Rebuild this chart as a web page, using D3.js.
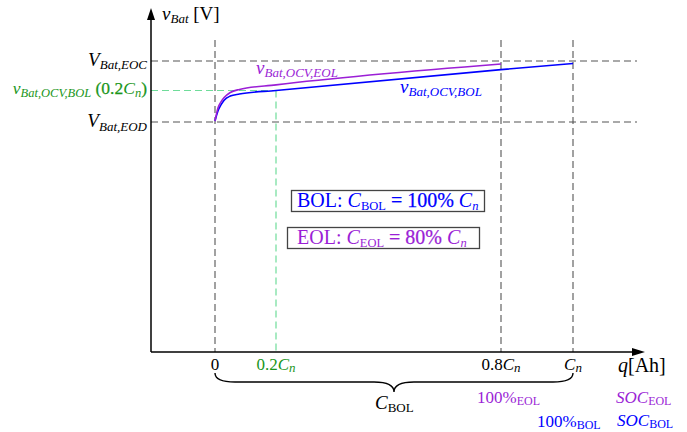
<!DOCTYPE html>
<html>
<head>
<meta charset="utf-8">
<script src="https://cdn.jsdelivr.net/npm/d3@7/dist/d3.min.js"></script>
<style>
  html, body { margin: 0; padding: 0; background: #fff; }
  svg { display: block; }
  text { font-family: "Liberation Serif", "Times New Roman", Tinos, "DejaVu Serif", serif; }
</style>
</head>
<body>
<svg id="chart" width="687" height="432"></svg>
<script>
// Charge level q as a fraction of the nominal capacity C_n
const qMarks = [0, 0.2, 0.8, 1];
const qMarkLabels = [
  [{t: "0"}],
  [{t: "0.2"}, {t: "C", i: true}, {t: "n", i: true, sub: true}],
  [{t: "0.8"}, {t: "C", i: true}, {t: "n", i: true, sub: true}],
  [{t: "C", i: true}, {t: "n", i: true, sub: true}]
];

// Voltage levels (V)
const vEOD = 3.0;
const vEOC = 4.2;
const vOcvBol02 = 3.62;

// Open-circuit voltage, begin of life (capacity = 100% C_n)
const bolQ = [0, 0.01, 0.02, 0.03, 0.05, 0.08, 0.2, 0.8, 1.0];
const bolV = [3.02, 3.22, 3.34, 3.43, 3.51, 3.55, 3.62, 4.03, 4.15];

// Open-circuit voltage, end of life (capacity = 80% C_n)
const eolQ = [0, 0.01, 0.02, 0.03, 0.05, 0.08, 0.2, 0.8];
const eolV = [3.02, 3.28, 3.40, 3.48, 3.58, 3.64, 3.73, 4.14];

const BLUE = "#0000ff";
const PURPLE = "#9b1fd6";
const GREEN = "#1a961a";
const GREEN_LIGHT = "#6fdc9a";
const GREY = "#555555";

const svg = d3.select("#chart");

// Plot frame
const originX = 151, originY = 352, topY = 8, rightX = 645, guideRight = 637;

// Schematic axis: 0.2 C_n is placed slightly closer to the origin
const x = d3.scaleLinear().domain([0, 0.2, 0.8, 1]).range([215, 276, 501, 573]);
const y = d3.scaleLinear().domain([vEOD, vEOC]).range([122, 61]);

// Rich text helper: segments with italic / subscript / heavier-stroke flags
function rich(parent, px, py, parts, opt) {
  opt = opt || {};
  const size = opt.size || 18;
  const color = opt.color || "#000";
  const subSize = opt.subSize || Math.round(size * 0.7);
  const subDy = opt.subDy || Math.round(size * 0.25);
  const t = parent.append("text")
    .attr("x", px).attr("y", py)
    .attr("text-anchor", opt.anchor || "start")
    .attr("fill", color)
    .style("font-size", size + "px");
  let cur = 0;
  parts.forEach(p => {
    const target = p.sub ? subDy : 0;
    const ts = t.append("tspan").text(p.t)
      .attr("dy", target - cur)
      .style("font-size", (p.sub ? subSize : (p.size || size)) + "px")
      .style("font-style", p.i ? "italic" : "normal");
    if (p.heavy) ts.attr("stroke", color).attr("stroke-width", 0.25);
    cur = target;
  });
  return t;
}

const guides = svg.append("g").attr("fill", "none");

// Horizontal guide levels
[vEOC, vEOD].forEach(v => {
  guides.append("line")
    .attr("x1", originX).attr("x2", guideRight)
    .attr("y1", y(v)).attr("y2", y(v))
    .attr("stroke", GREY).attr("stroke-width", 1.1)
    .attr("stroke-dasharray", "7,4");
});

// Vertical guides at 0, 0.8 C_n, C_n
[0, 0.8, 1].forEach(q => {
  guides.append("line")
    .attr("x1", x(q)).attr("x2", x(q))
    .attr("y1", 40).attr("y2", originY)
    .attr("stroke", GREY).attr("stroke-width", 1.1)
    .attr("stroke-dasharray", "7,4");
});

// Green reference at 0.2 C_n
guides.append("line")
  .attr("x1", originX).attr("x2", x(0.2))
  .attr("y1", y(vOcvBol02)).attr("y2", y(vOcvBol02))
  .attr("stroke", GREEN_LIGHT).attr("stroke-width", 1.2)
  .attr("stroke-dasharray", "7,4");
guides.append("line")
  .attr("x1", x(0.2)).attr("x2", x(0.2))
  .attr("y1", y(vOcvBol02)).attr("y2", originY)
  .attr("stroke", GREEN_LIGHT).attr("stroke-width", 1.2)
  .attr("stroke-dasharray", "7,4");

// OCV curves
const line = d3.line()
  .x(d => x(d[0]))
  .y(d => y(d[1]))
  .curve(d3.curveMonotoneX);

svg.append("path")
  .datum(bolQ.map((q, k) => [q, bolV[k]]))
  .attr("d", line)
  .attr("fill", "none").attr("stroke", BLUE).attr("stroke-width", 1.6);

svg.append("path")
  .datum(eolQ.map((q, k) => [q, eolV[k]]))
  .attr("d", line)
  .attr("fill", "none").attr("stroke", PURPLE).attr("stroke-width", 1.6);

// Axes with arrowheads
const axes = svg.append("g");
axes.append("line")
  .attr("x1", originX).attr("x2", originX)
  .attr("y1", originY).attr("y2", topY + 8)
  .attr("stroke", "#000").attr("stroke-width", 1.5);
axes.append("path")
  .attr("d", `M${originX},${topY} L${originX - 4},${topY + 12} L${originX + 4},${topY + 12} Z`)
  .attr("fill", "#000");
axes.append("line")
  .attr("x1", originX).attr("x2", rightX - 8)
  .attr("y1", originY).attr("y2", originY)
  .attr("stroke", "#000").attr("stroke-width", 1.5);
axes.append("path")
  .attr("d", `M${rightX},${originY} L${rightX - 13},${originY - 4} L${rightX - 13},${originY + 4} Z`)
  .attr("fill", "#000");

// Axis titles
rich(svg, 162, 20, [
  {t: "v", i: true}, {t: "Bat", i: true, sub: true}, {t: " [V]"}
], {size: 19, subSize: 13, subDy: 3});

rich(svg, 618, 372, [
  {t: "q", i: true}, {t: "[Ah]"}
], {size: 20});

// q-axis marks
qMarks.forEach((q, k) => {
  rich(svg, x(q), 370, qMarkLabels[k], {
    anchor: "middle", size: 17, subSize: 13, subDy: 2,
    color: q === 0.2 ? GREEN : "#000"
  });
});

// Voltage level labels
rich(svg, 147, 66, [
  {t: "V", i: true}, {t: "Bat,EOC", i: true, sub: true}
], {anchor: "end", size: 19, subSize: 13, subDy: 3});

rich(svg, 147, 127, [
  {t: "V", i: true}, {t: "Bat,EOD", i: true, sub: true}
], {anchor: "end", size: 19, subSize: 13, subDy: 4});

rich(svg, 147, 94, [
  {t: "v", i: true}, {t: "Bat,OCV,BOL", i: true, sub: true},
  {t: " (0.2", heavy: true}, {t: "C", i: true}, {t: "n", i: true, sub: true}, {t: ")", heavy: true}
], {anchor: "end", size: 17.5, subSize: 12.5, subDy: 3, color: GREEN});

// Curve labels
rich(svg, 256, 74, [
  {t: "v", i: true}, {t: "Bat,OCV,EOL", i: true, sub: true}
], {size: 19, subSize: 13, subDy: 3, color: PURPLE});

rich(svg, 400, 93, [
  {t: "v", i: true}, {t: "Bat,OCV,BOL", i: true, sub: true}
], {size: 19, subSize: 13, subDy: 3, color: BLUE});

// Capacity boxes
const boxes = svg.append("g");
boxes.append("rect")
  .attr("x", 291.5).attr("y", 190.5).attr("width", 193).attr("height", 21)
  .attr("fill", "#fff").attr("stroke", "#444").attr("stroke-width", 1.3);
rich(boxes, 297, 207, [
  {t: "BOL: "}, {t: "C", i: true}, {t: "BOL", sub: true},
  {t: " = 100% ", heavy: true}, {t: "C", i: true}, {t: "n", i: true, sub: true}
], {size: 20, subSize: 12.5, subDy: 3, color: BLUE});

boxes.append("rect")
  .attr("x", 287.5).attr("y", 227.5).attr("width", 192).attr("height", 21)
  .attr("fill", "#fff").attr("stroke", "#444").attr("stroke-width", 1.3);
rich(boxes, 297, 244, [
  {t: "EOL: "}, {t: "C", i: true}, {t: "EOL", sub: true},
  {t: " = 80% ", heavy: true}, {t: "C", i: true}, {t: "n", i: true, sub: true}
], {size: 20, subSize: 12.5, subDy: 3, color: PURPLE});

// Brace spanning the full BOL capacity
const bx0 = x(0), bx1 = x(1), bxm = (bx0 + bx1) / 2;
const bTop = 373, bMid = 382, bTip = 392, r = 20;
svg.append("path")
  .attr("d",
    `M${bx0},${bTop} Q${bx0},${bMid} ${bx0 + r},${bMid} ` +
    `L${bxm - r},${bMid} Q${bxm},${bMid} ${bxm},${bTip} ` +
    `Q${bxm},${bMid} ${bxm + r},${bMid} ` +
    `L${bx1 - r},${bMid} Q${bx1},${bMid} ${bx1},${bTop}`)
  .attr("fill", "none").attr("stroke", "#000").attr("stroke-width", 1.4);

rich(svg, 375, 409, [
  {t: "C", i: true}, {t: "BOL", sub: true}
], {size: 19, subSize: 13, subDy: 3});

// State-of-charge references
rich(svg, 477, 403, [
  {t: "100%"}, {t: "EOL", sub: true}
], {size: 17, subSize: 12, subDy: 2, color: PURPLE});
rich(svg, 537, 427, [
  {t: "100%"}, {t: "BOL", sub: true}
], {size: 17, subSize: 12, subDy: 2, color: BLUE});
rich(svg, 616, 403, [
  {t: "SOC", i: true}, {t: "EOL", sub: true}
], {size: 17, subSize: 12, subDy: 2, color: PURPLE});
rich(svg, 617, 426, [
  {t: "SOC", i: true}, {t: "BOL", sub: true}
], {size: 17, subSize: 12, subDy: 2, color: BLUE});
</script>
</body>
</html>
